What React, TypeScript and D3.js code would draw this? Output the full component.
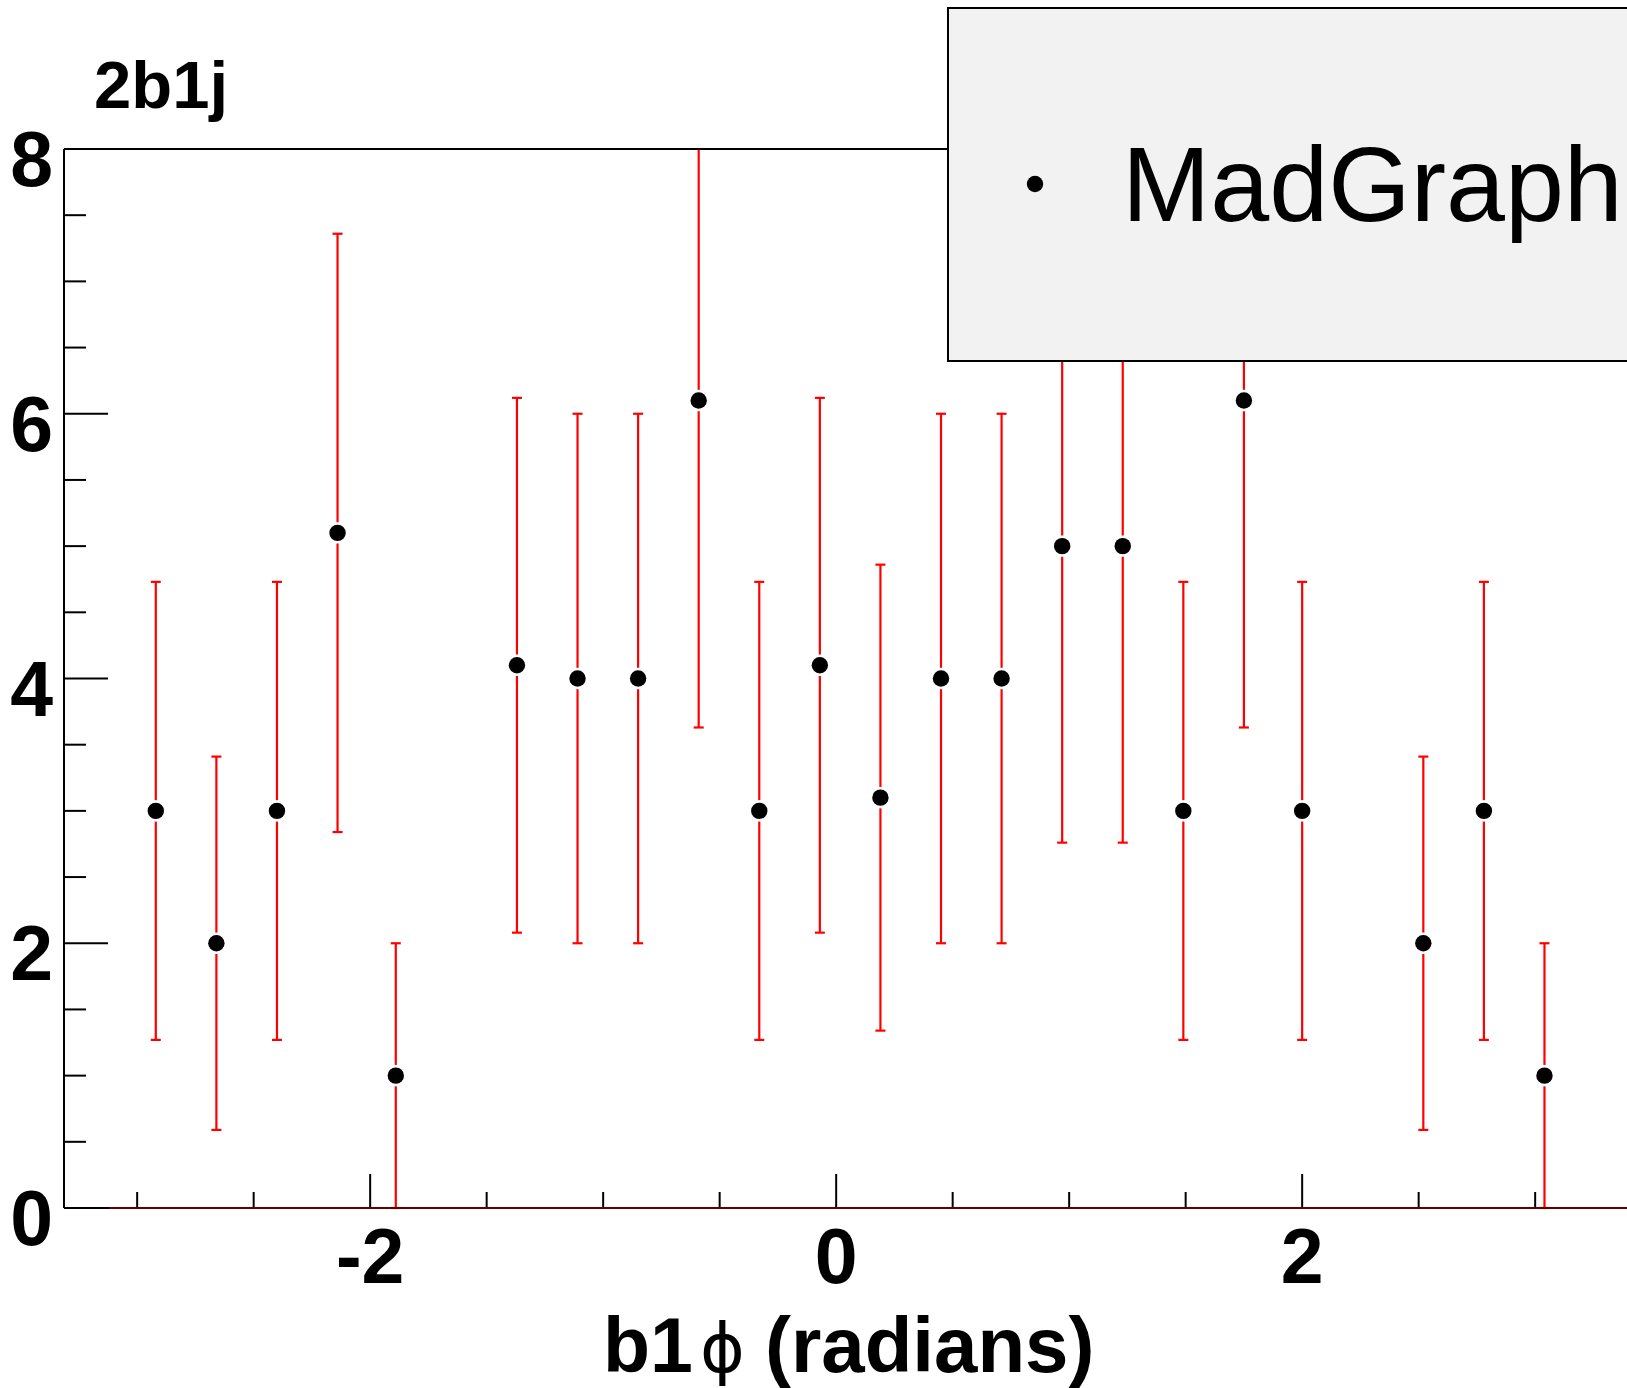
import React from "react";
import * as d3 from "d3";

// ---- data ----
const binCenters = [-2.92, -2.66, -2.40, -2.14, -1.89, -1.37, -1.11, -0.85, -0.59, -0.33, -0.07, 0.19, 0.45, 0.71, 0.97, 1.23, 1.49, 1.75, 2.00, 2.52, 2.78, 3.04];
const counts = [3, 2, 3, 5.1, 1, 4.1, 4, 4, 6.1, 3, 4.1, 3.1, 4, 4, 5, 5, 3, 6.1, 3, 2, 3, 1];
const errors = [1.73, 1.41, 1.73, 2.26, 1.0, 2.02, 2.0, 2.0, 2.47, 1.73, 2.02, 1.76, 2.0, 2.0, 2.24, 2.24, 1.73, 2.47, 1.73, 1.41, 1.73, 1.0];
const xMajorTicks = [-2, 0, 2];
const xMinorTicks = [-3, -2.5, -1.5, -1, -0.5, 0.5, 1, 1.5, 2.5, 3];
const yMajorTicks = [0, 2, 4, 6, 8];
const yMinorTicks = [0.5, 1, 1.5, 2.5, 3, 3.5, 4.5, 5, 5.5, 6.5, 7, 7.5];
const xDomain = [-3.314, 3.45];
const yDomain = [0, 8];
const histLow = -3.12;
const title = "2b1j";
const legendLabel = "MadGraph";

const W = 1627;
const H = 1388;
const FONT = "'Liberation Sans', Arial, Helvetica, sans-serif";

export default function App() {
  const x = d3.scaleLinear().domain(xDomain).range([64, 64 + 233 * (xDomain[1] - xDomain[0])]);
  const y = d3.scaleLinear().domain(yDomain).range([1208, 149]);
  const x0 = x(xDomain[0]);
  const x1 = x(xDomain[1]);
  const yb = y(0);
  const yt = y(8);
  const r = 8.2;
  const gap = 2.5;
  const capW = 5;

  return (
    <svg
      width={W}
      height={H}
      viewBox={`0 0 ${W} ${H}`}
      style={{ position: "absolute", left: 0, top: 0, background: "#fff" }}
    >
      <rect x={0} y={0} width={W} height={H} fill="#fff" />
      {/* title */}
      <text x={94} y={108} fontFamily={FONT} fontWeight="bold" fontSize={67} fill="#000">
        {title}
      </text>

      {/* error bars */}
      <g stroke="#ff0000" strokeWidth={2.2} fill="none">
        {binCenters.map((c, i) => {
          const px = x(c);
          const py = y(counts[i]);
          const hiV = counts[i] + errors[i];
          const loV = Math.max(0, counts[i] - errors[i]);
          const hiClipped = hiV > yDomain[1];
          const pyHi = y(Math.min(hiV, yDomain[1]));
          const pyLo = y(loV);
          return (
            <g key={i}>
              <line x1={px} x2={px} y1={pyHi} y2={py - r - gap} />
              <line x1={px} x2={px} y1={py + r + gap} y2={pyLo} />
              {!hiClipped && <line x1={px - capW} x2={px + capW} y1={pyHi} y2={pyHi} />}
              <line x1={px - capW} x2={px + capW} y1={pyLo} y2={pyLo} />
            </g>
          );
        })}
      </g>

      {/* markers */}
      <g fill="#000">
        {binCenters.map((c, i) => (
          <circle key={i} cx={x(c)} cy={y(counts[i])} r={r} />
        ))}
      </g>

      {/* frame / axes */}
      <g stroke="#000" strokeWidth={2} fill="none">
        <line x1={x0} x2={x1} y1={yt} y2={yt} />
        <line x1={x0} x2={x0} y1={yt} y2={yb} />
        <line x1={x0} x2={x1} y1={yb} y2={yb} />
        {xMajorTicks.map((t) => (
          <line key={"xM" + t} x1={x(t)} x2={x(t)} y1={yb} y2={yb - 34} />
        ))}
        {xMinorTicks.map((t) => (
          <line key={"xm" + t} x1={x(t)} x2={x(t)} y1={yb} y2={yb - 16} />
        ))}
        {yMajorTicks.map((t) => (
          <line key={"yM" + t} x1={x0} x2={x0 + 44} y1={y(t)} y2={y(t)} />
        ))}
        {yMinorTicks.map((t) => (
          <line key={"ym" + t} x1={x0} x2={x0 + 22} y1={y(t)} y2={y(t)} />
        ))}
      </g>
      <line x1={x(histLow)} x2={x1} y1={yb} y2={yb} stroke="#800000" strokeWidth={1.5} />

      {/* tick labels */}
      <g fontFamily={FONT} fontWeight="bold" fontSize={77} fill="#000">
        {yMajorTicks.map((t) => (
          <text key={"yl" + t} x={53} y={y(t) + 37} textAnchor="end">
            {String(t)}
          </text>
        ))}
        {xMajorTicks.map((t) => (
          <text key={"xl" + t} x={x(t)} y={1283} textAnchor="middle">
            {t < 0 ? "-" + Math.abs(t) : String(t)}
          </text>
        ))}
      </g>

      {/* x axis title */}
      <text x={603} y={1372} fontFamily={FONT} fontWeight="bold" fontSize={77} fill="#000">
        b1
      </text>
      <text
        x={722.5}
        y={1372}
        textAnchor="middle"
        fontFamily="'DejaVu Sans', sans-serif"
        fontWeight="normal"
        fontSize={68}
        fill="#000"
      >
        ϕ
      </text>
      <text x={765} y={1372} fontFamily={FONT} fontWeight="bold" fontSize={78} fill="#000">
        (radians)
      </text>

      {/* legend */}
      <rect x={948} y={8} width={720} height={353} fill="#f2f2f2" stroke="#000" strokeWidth={2} />
      <circle cx={1035} cy={184} r={r} fill="#000" />
      <text x={1122} y={221} fontFamily={FONT} fontSize={106} fill="#000">
        {legendLabel}
      </text>
    </svg>
  );
}
